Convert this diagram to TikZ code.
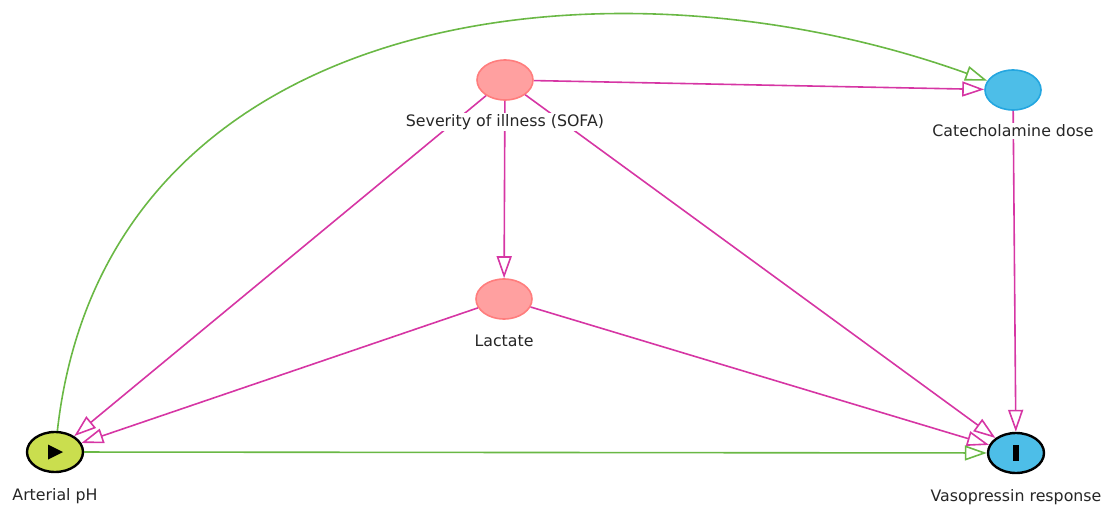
\documentclass[tikz,border=0pt]{standalone}
\usepackage{fontspec}
\setmainfont{DejaVu Sans}
\usetikzlibrary{arrows.meta,shapes.geometric}
\definecolor{pinkedge}{RGB}{214,54,164}
\definecolor{greenedge}{RGB}{106,184,69}
\definecolor{salmon}{RGB}{255,160,160}
\definecolor{salmonline}{RGB}{255,125,125}
\definecolor{skyblue}{RGB}{77,190,232}
\definecolor{skyline}{RGB}{36,166,224}
\definecolor{limefill}{RGB}{202,222,78}

\begin{document}
\begin{tikzpicture}[x=1pt,y=-1pt]
        \tikzstyle{every node}=[font=\fontsize{15.8}{19}\selectfont, text=black!85]
        \tikzstyle{var}=[ellipse, minimum width=56pt, minimum height=40pt, inner sep=0pt, line width=1.6pt]
        \tikzstyle{caus}=[draw=pinkedge, line width=1.6pt, -{Triangle[open, length=22pt, width=15pt]}]
        \tikzstyle{expo}=[draw=greenedge, line width=1.6pt, -{Triangle[open, length=22pt, width=15pt]}]
        \tikzstyle{lbl}=[fill=white, inner sep=1.5pt]
        \useasboundingbox (0,0) rectangle (1108,508);

        % variables
        \node[var, fill=salmon, draw=salmonline] (sofa) at (505,80) {};
        \node[var, fill=salmon, draw=salmonline] (lact) at (504,299) {};
        \node[var, fill=skyblue, draw=skyline] (cat) at (1013,90) {};
        \node[var, fill=limefill, draw=black, line width=2.4pt] (ph) at (55,452) {};
        \node[var, fill=skyblue, draw=black, line width=2.4pt] (vaso) at (1016,453) {};

        % exposure and outcome marks
        \fill[black] (ph.center) ++(-7,-7.5) -- ++(15,7.5) -- ++(-15,7.5) -- cycle;
        \fill[black] (vaso.center) ++(-3,-8) rectangle ++(6,16);

        % edges
        \draw[caus] (sofa) -- (cat);
        \draw[caus] (sofa) -- (lact);
        \draw[caus] (sofa) -- (ph);
        \draw[caus] (sofa) -- (vaso);
        \draw[caus] (lact) -- (ph);
        \draw[caus] (lact) -- (vaso);
        \draw[caus] (cat) -- (vaso);
        \draw[expo] (ph) -- (vaso);
        \draw[expo] (ph) .. controls (105,5) and (610,-55) .. (cat);

        % labels
        \node[lbl] (sofa-l) at (505,122) {Severity of illness (SOFA)};
        \node[lbl] (lact-l) at (504,341) {Lactate};
        \node[lbl] (cat-l) at (1013,131) {Catecholamine dose};
        \node[lbl] (ph-l) at (55,496) {Arterial pH};
        \node[lbl] (vaso-l) at (1016,497) {Vasopressin response};
\end{tikzpicture}
\end{document}
